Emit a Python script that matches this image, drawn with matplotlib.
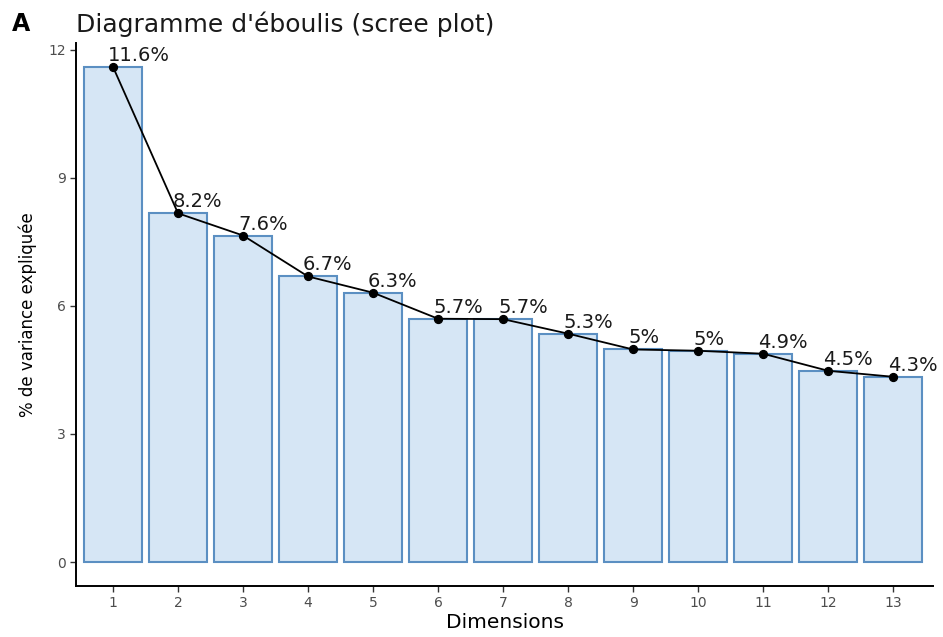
import matplotlib
matplotlib.use('Agg')
import matplotlib.pyplot as plt

plt.rcParams['font.family'] = ['DejaVu Sans']

# ── Data ───────────────────────────────────────────────────────────────────
dimensions = [1, 2, 3, 4, 5, 6, 7, 8, 9, 10, 11, 12, 13]
variance = [11.6, 8.17, 7.65, 6.69, 6.31, 5.70, 5.69, 5.35, 4.98, 4.95,
            4.88, 4.48, 4.34]
labels = ['11.6%', '8.2%', '7.6%', '6.7%', '6.3%', '5.7%', '5.7%', '5.3%',
          '5%', '5%', '4.9%', '4.5%', '4.3%']
yticks = [0, 3, 6, 9, 12]

fig = plt.figure(figsize=(9.43, 6.37), dpi=100)
ax = fig.add_axes([0.0806, 0.080, 0.909, 0.8525])

ax.bar(dimensions, variance, width=0.9, color='#D6E6F5',
       edgecolor='#5B8FC2', linewidth=1.5, zorder=1)
ax.plot(dimensions, variance, color='black', lw=1.3, zorder=2)
ax.scatter(dimensions, variance, color='black', s=32, zorder=3)

for x, v, lab in zip(dimensions, variance, labels):
    ax.annotate(lab, (x, v), xytext=(-5, 6), textcoords='offset pixels',
                ha='left', va='baseline', fontsize=14, color='#1A1A1A',
                zorder=4)

ax.set_xlim(0.431, 13.615)
ax.set_ylim(-0.5625, 12.16)
ax.set_xticks(dimensions)
ax.set_yticks(yticks)
ax.tick_params(axis='both', colors='#333333', labelcolor='#4D4D4D',
               labelsize=10, length=4.5, width=1, pad=3)

for side in ['top', 'right']:
    ax.spines[side].set_visible(False)
for side in ['left', 'bottom']:
    ax.spines[side].set_linewidth(1.4)
    ax.spines[side].set_color('black')

ax.set_xlabel('Dimensions', fontsize=14.5, labelpad=2)
ax.set_ylabel('% de variance expliquée', fontsize=12, labelpad=8)

fig.text(0.013, 0.962, 'A', fontsize=17, fontweight='bold', va='center')
fig.text(0.0806, 0.962, "Diagramme d'éboulis (scree plot)", fontsize=18,
         va='center', color='#1A1A1A')

fig.savefig('out.png', dpi=100)
plt.close(fig)
